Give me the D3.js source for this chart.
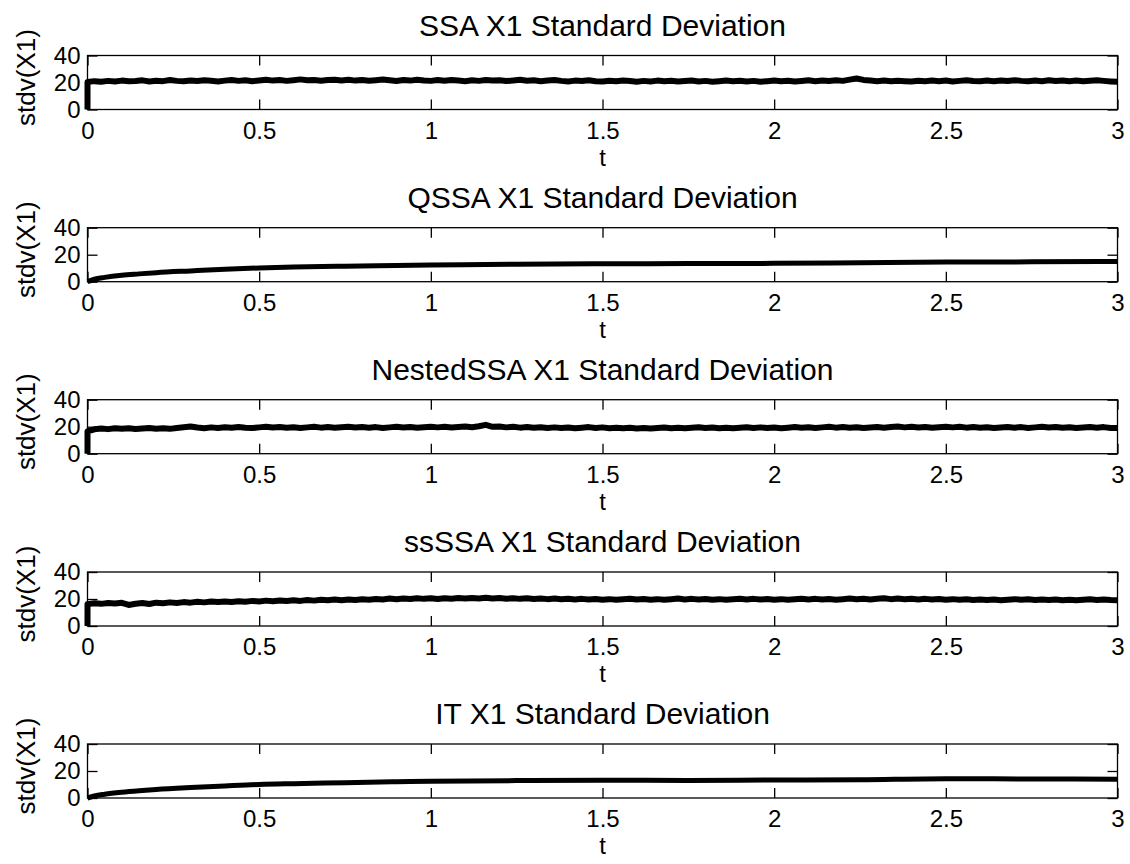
<!DOCTYPE html>
<html>
<head>
<meta charset="utf-8">
<script src="https://cdn.jsdelivr.net/npm/d3@7"></script>
<style>
  html, body { margin: 0; padding: 0; background: #fff; }
  svg { display: block; font-family: "Liberation Sans", Arial, Helvetica, sans-serif; }
</style>
</head>
<body>
<svg id="chart" width="1130" height="864"></svg>
<script>
// Panel titles, top to bottom
const panelTitles = [
  "SSA X1 Standard Deviation",
  "QSSA X1 Standard Deviation",
  "NestedSSA X1 Standard Deviation",
  "ssSSA X1 Standard Deviation",
  "IT X1 Standard Deviation"
];

const xTicks = [0, 0.5, 1, 1.5, 2, 2.5, 3];
const xTickLabels = ["0", "0.5", "1", "1.5", "2", "2.5", "3"];
const yTicks = [0, 20, 40];
const yTickLabels = ["0", "20", "40"];

// Stochastic runs are sampled every 0.02 time units on [0, 3];
// every run starts from a deterministic state (stdv = 0 at t = 0).
const sampleStep = 0.02;
const initialStdv = 0;

const ssaStdv = [
  20.3, 21.0, 20.6, 21.2, 20.8, 21.4, 20.9, 21.1, 21.6, 20.7,
  21.3, 21.0, 21.8, 21.2, 20.9, 21.5, 21.1, 21.7, 21.3, 20.8,
  21.4, 21.9, 21.2, 21.6, 21.0, 21.5, 22.0, 21.4, 21.8, 21.2,
  21.7, 22.3, 21.6, 21.9, 21.3, 21.8, 22.1, 21.5, 22.0, 21.4,
  21.9, 21.3, 21.7, 22.2, 21.6, 21.1, 21.8, 21.4, 22.0, 21.5,
  21.2, 21.8, 21.3, 21.9, 21.5, 21.0, 21.6, 21.2, 21.8, 21.4,
  21.7, 21.1, 21.5, 22.0, 21.3, 21.6, 21.0, 21.4, 21.9, 21.2,
  20.8, 21.4, 21.1, 21.6, 21.0, 20.7, 21.3, 20.9, 21.5, 21.1,
  20.6, 21.2, 20.8, 21.4, 20.9, 21.3, 20.7, 21.1, 21.5, 20.8,
  21.2, 20.6, 21.0, 21.4, 20.9, 21.3, 20.8, 21.2, 20.6, 21.0,
  21.5, 20.9, 21.3, 20.7, 21.1, 21.6, 21.0, 21.4, 21.1, 21.6,
  21.2, 22.1, 23.0, 21.9, 21.4, 21.0, 21.5, 20.9, 21.3, 21.0,
  20.7, 21.3, 20.9, 21.4, 21.0, 21.5, 20.8, 21.2, 21.7, 21.1,
  20.9, 21.4, 21.0, 21.5, 21.1, 21.7, 21.2, 20.9, 21.4, 21.0,
  21.6, 21.1, 21.5, 21.0, 21.4, 20.9, 21.3, 21.7, 21.2, 20.8,
  20.5
];

const nestedStdv = [
  16.6, 18.1, 18.6, 18.2, 18.9, 18.4, 18.8, 18.3, 18.7, 19.0,
  18.5, 18.9, 18.4, 19.1, 19.6, 20.2, 19.4, 18.9, 19.5, 19.1,
  19.6, 19.2, 19.8, 19.3, 19.0, 19.5, 19.9, 19.4, 19.7, 19.2,
  19.6, 19.1, 19.5, 19.9, 19.3, 19.7, 19.2, 19.6, 20.0, 19.4,
  19.8, 19.3, 19.7, 19.1, 19.5, 19.9, 19.4, 19.8, 19.2, 19.6,
  20.0, 19.5, 19.9, 19.4, 19.8, 20.2, 19.6, 20.3, 21.4, 19.9,
  20.1, 19.5, 19.9, 19.3, 19.7, 19.2, 19.6, 19.1, 19.5, 19.0,
  19.4, 18.9, 19.3, 19.7, 19.1, 19.5, 18.9, 19.3, 18.8, 19.2,
  18.7, 19.1, 18.6, 19.0, 19.4, 18.9, 19.3, 18.8, 19.2, 19.6,
  19.0, 19.4, 18.9, 19.3, 18.8, 19.2, 19.6, 19.1, 19.5, 19.0,
  19.4, 18.9, 19.3, 19.7, 19.2, 19.6, 19.1, 19.5, 19.9, 19.3,
  19.7, 19.2, 19.6, 19.0, 19.4, 19.8, 19.3, 19.7, 20.1, 19.5,
  19.9, 19.4, 19.8, 19.2, 19.6, 20.0, 19.5, 19.9, 19.3, 19.7,
  19.2, 19.6, 19.0, 19.4, 19.8, 19.3, 19.7, 19.1, 19.5, 19.9,
  19.4, 19.8, 19.2, 19.6, 19.0, 19.4, 19.8, 19.3, 19.7, 19.1,
  19.0
];

const ssStdv = [
  16.2, 16.8, 16.4, 17.0, 16.6, 17.2, 15.6, 16.5, 17.1, 16.3,
  17.3, 16.9, 17.5, 17.1, 17.7, 17.3, 17.9, 17.5, 18.1, 17.7,
  18.2, 17.8, 18.4, 18.0, 18.6, 18.2, 18.8, 18.3, 18.9, 18.5,
  19.0, 18.6, 19.2, 18.8, 19.4, 19.0, 19.6, 19.1, 19.7, 19.3,
  19.8, 19.4, 20.0, 19.6, 20.3, 19.8, 20.4, 20.0, 20.6, 20.1,
  20.5, 20.0, 20.6, 20.2, 20.7, 20.3, 20.8, 20.4, 20.9, 20.3,
  20.7, 20.2, 20.6, 20.1, 20.5, 20.0, 20.4, 19.9, 20.3, 19.8,
  20.2, 19.7, 20.1, 19.6, 20.0, 19.5, 19.9, 19.4, 19.8, 20.2,
  19.6, 20.0, 19.5, 19.9, 19.4, 19.8, 20.3, 19.7, 20.1, 19.6,
  20.0, 19.5, 19.9, 19.4, 19.8, 20.2, 19.7, 20.1, 19.6, 20.0,
  19.5, 19.9, 19.4, 19.8, 20.2, 19.7, 20.1, 19.6, 20.0, 19.5,
  19.9, 20.3, 19.8, 20.2, 19.7, 20.1, 20.5, 19.9, 20.3, 19.8,
  20.2, 19.7, 20.1, 19.6, 20.0, 19.5, 19.9, 19.4, 19.8, 19.3,
  19.7, 19.2, 19.6, 19.1, 19.5, 19.9, 19.4, 19.8, 19.3, 19.7,
  19.2, 19.6, 19.1, 19.5, 19.0, 19.4, 19.8, 19.3, 19.7, 19.2,
  19.0
];

// Approximate methods give smooth curves, stored at these time points
const smoothTimes = [0, 0.02, 0.05, 0.1, 0.15, 0.2, 0.3, 0.4, 0.5, 0.6, 0.75,
                     0.9, 1.0, 1.25, 1.5, 1.75, 2.0, 2.25, 2.5, 2.75, 3.0];
const qssaStdv = [0, 1.8, 3.2, 4.8, 5.8, 6.7, 8.0, 9.2, 10.2, 10.8, 11.5,
                  12.0, 12.3, 13.0, 13.3, 13.4, 13.6, 14.1, 14.6, 14.7, 15.0];
const itStdv   = [0, 1.5, 2.8, 4.3, 5.4, 6.3, 7.7, 8.9, 10.0, 10.6, 11.3,
                  12.0, 12.4, 12.9, 13.2, 13.0, 13.3, 13.6, 14.3, 14.1, 13.9];

// Build (t, value) pairs for each panel
function sampled(values) {
  const pts = [[0, initialStdv]];
  values.forEach((v, i) => pts.push([+(i * sampleStep).toFixed(4), v]));
  return pts;
}
function paired(times, values) {
  return times.map((t, i) => [t, values[i]]);
}
const panelData = [
  sampled(ssaStdv),
  paired(smoothTimes, qssaStdv),
  sampled(nestedStdv),
  sampled(ssStdv),
  paired(smoothTimes, itStdv)
];
const smoothPanels = [false, true, false, false, true];

// ---- layout ----
const left = 87.5, right = 1117.5;
const panelTops = [55.5, 227.7, 399.7, 572, 744];
const panelH = 54;
const tickLen = 10;
const fontStack = "Liberation Sans, Arial, sans-serif";

const svg = d3.select("#chart");
const x = d3.scaleLinear().domain([0, 3]).range([left, right]);

panelData.forEach((pts, k) => {
  const top = panelTops[k];
  const y = d3.scaleLinear().domain([0, 40]).range([top + panelH, top]);
  const g = svg.append("g");

  // data line
  const line = d3.line().x(d => x(d[0])).y(d => y(d[1]));
  if (smoothPanels[k]) line.curve(d3.curveMonotoneX);
  g.append("path")
    .datum(pts)
    .attr("d", line)
    .attr("fill", "none")
    .attr("stroke", "#000")
    .attr("stroke-width", smoothPanels[k] ? 5 : 6)
    .attr("stroke-linejoin", "round")
    .attr("stroke-linecap", "butt");

  // axis box
  g.append("rect")
    .attr("x", left).attr("y", top)
    .attr("width", right - left).attr("height", panelH)
    .attr("fill", "none").attr("stroke", "#000").attr("stroke-width", 1.3);

  // bottom axis with inward ticks, mirrored on top edge
  const xAxis = d3.axisBottom(x).tickValues(xTicks)
    .tickFormat((d, i) => xTickLabels[i])
    .tickSizeInner(-tickLen).tickSizeOuter(0).tickPadding(12);
  const xa = g.append("g").attr("transform", `translate(0,${top + panelH})`).call(xAxis);
  xa.select(".domain").remove();
  xa.selectAll("line").attr("stroke", "#000").attr("stroke-width", 1.3);
  xa.selectAll("text").attr("font-size", 24).attr("fill", "#000")
    .attr("font-family", fontStack);

  const xTop = d3.axisTop(x).tickValues(xTicks).tickFormat("")
    .tickSizeInner(-tickLen).tickSizeOuter(0);
  const xt = g.append("g").attr("transform", `translate(0,${top})`).call(xTop);
  xt.select(".domain").remove();
  xt.selectAll("line").attr("stroke", "#000").attr("stroke-width", 1.3);

  // left axis with inward ticks, mirrored on right edge
  const yAxis = d3.axisLeft(y).tickValues(yTicks)
    .tickFormat((d, i) => yTickLabels[i])
    .tickSizeInner(-tickLen).tickSizeOuter(0).tickPadding(7);
  const ya = g.append("g").attr("transform", `translate(${left},0)`).call(yAxis);
  ya.select(".domain").remove();
  ya.selectAll("line").attr("stroke", "#000").attr("stroke-width", 1.3);
  ya.selectAll("text").attr("font-size", 24).attr("fill", "#000")
    .attr("font-family", fontStack);

  const yRight = d3.axisRight(y).tickValues(yTicks).tickFormat("")
    .tickSizeInner(-tickLen).tickSizeOuter(0);
  const yr = g.append("g").attr("transform", `translate(${right},0)`).call(yRight);
  yr.select(".domain").remove();
  yr.selectAll("line").attr("stroke", "#000").attr("stroke-width", 1.3);

  // title
  g.append("text")
    .attr("x", (left + right) / 2).attr("y", top - 20)
    .attr("text-anchor", "middle")
    .attr("font-size", 30).attr("fill", "#000")
    .text(panelTitles[k]);

  // x label
  g.append("text")
    .attr("x", (left + right) / 2).attr("y", top + panelH + 56)
    .attr("text-anchor", "middle")
    .attr("font-size", 24).attr("fill", "#000")
    .text("t");

  // y label
  g.append("text")
    .attr("transform", `translate(35,${top + panelH / 2 - 5}) rotate(-90)`)
    .attr("text-anchor", "middle")
    .attr("font-size", 26).attr("fill", "#000")
    .text("stdv(X1)");
});
</script>
</body>
</html>
